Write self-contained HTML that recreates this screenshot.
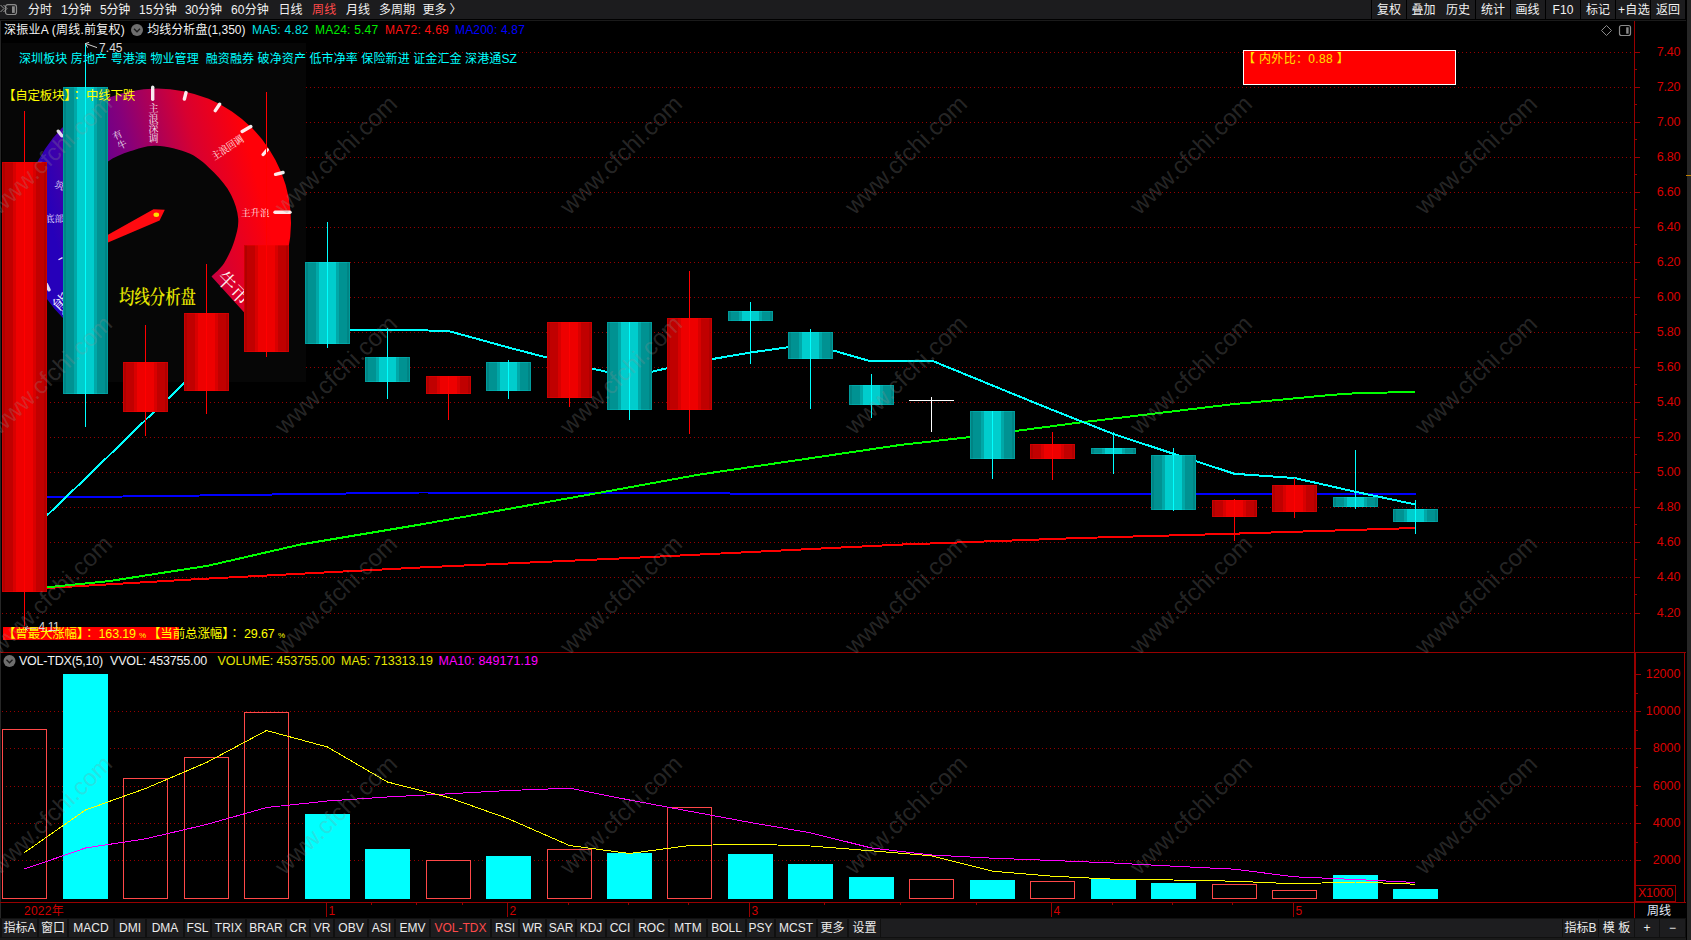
<!DOCTYPE html><html lang="zh"><head><meta charset="utf-8"><title>深振业A 周线</title><style>
html,body{margin:0;padding:0;background:#000;}
body{width:1691px;height:940px;overflow:hidden;position:relative;font-family:"Liberation Sans","Noto Sans CJK SC",sans-serif;}
.t{position:absolute;white-space:nowrap;line-height:16px;height:16px;}
.tb{position:absolute;background:#1c1c1e;}
.tab{position:absolute;top:919px;height:18px;background:#1d1d1f;color:#ececec;font-size:12px;line-height:18px;text-align:center;white-space:nowrap;}

</style></head><body>
<div class="tb" style="left:0;top:0;width:1371px;height:19px"></div>
<div class="tb" style="left:1372px;top:0;width:34px;height:19px"></div>
<div class="tb" style="left:1406.5px;top:0;width:34px;height:19px"></div>
<div class="tb" style="left:1441px;top:0;width:34px;height:19px"></div>
<div class="tb" style="left:1476px;top:0;width:34px;height:19px"></div>
<div class="tb" style="left:1510.5px;top:0;width:34px;height:19px"></div>
<div class="tb" style="left:1546px;top:0;width:34px;height:19px"></div>
<div class="tb" style="left:1581px;top:0;width:34px;height:19px"></div>
<div class="tb" style="left:1616px;top:0;width:34px;height:19px"></div>
<div class="tb" style="left:1651px;top:0;width:34px;height:19px"></div>
<div style="position:absolute;left:1687px;top:0;width:4px;height:940px;background:#262626"></div>
<div style="position:absolute;left:0;top:20px;width:1px;height:900px;background:#262626"></div>
<div style="position:absolute;left:0;top:20px;width:1686px;height:1px;background:#1a1a1a"></div>
<div style="position:absolute;left:0;top:918px;width:1686px;height:20px;background:#101010"></div>
<div style="position:absolute;left:881px;top:919px;width:681px;height:18px;background:#1d1d1f"></div>
<div style="position:absolute;left:0;top:938px;width:1686px;height:2px;background:#1a1a1a"></div>
<svg width="1691" height="940" viewBox="0 0 1691 940" style="position:absolute;left:0;top:0" shape-rendering="crispEdges">
<defs><linearGradient id="gg" gradientUnits="userSpaceOnUse" x1="56.4" y1="245.4" x2="260.6" y2="194.4"><stop offset="0" stop-color="#2600ba"/><stop offset="0.45" stop-color="#86007a"/><stop offset="0.75" stop-color="#d80030"/><stop offset="1" stop-color="#ff0008"/></linearGradient></defs>
<g stroke="#960000" stroke-width="1" stroke-dasharray="1 3"><line x1="2" y1="52.5" x2="1632" y2="52.5"/>
<line x1="2" y1="87.5" x2="1632" y2="87.5"/>
<line x1="2" y1="122.5" x2="1632" y2="122.5"/>
<line x1="2" y1="157.5" x2="1632" y2="157.5"/>
<line x1="2" y1="192.5" x2="1632" y2="192.5"/>
<line x1="2" y1="227.5" x2="1632" y2="227.5"/>
<line x1="2" y1="262.5" x2="1632" y2="262.5"/>
<line x1="2" y1="297.5" x2="1632" y2="297.5"/>
<line x1="2" y1="332.5" x2="1632" y2="332.5"/>
<line x1="2" y1="367.5" x2="1632" y2="367.5"/>
<line x1="2" y1="402.5" x2="1632" y2="402.5"/>
<line x1="2" y1="437.5" x2="1632" y2="437.5"/>
<line x1="2" y1="472.5" x2="1632" y2="472.5"/>
<line x1="2" y1="507.5" x2="1632" y2="507.5"/>
<line x1="2" y1="542.5" x2="1632" y2="542.5"/>
<line x1="2" y1="577.5" x2="1632" y2="577.5"/>
<line x1="2" y1="613.5" x2="1632" y2="613.5"/>
<line x1="2" y1="711.5" x2="1632" y2="711.5"/>
<line x1="2" y1="748.5" x2="1632" y2="748.5"/>
<line x1="2" y1="786.5" x2="1632" y2="786.5"/>
<line x1="2" y1="823.5" x2="1632" y2="823.5"/>
<line x1="2" y1="860.5" x2="1632" y2="860.5"/></g>
<rect x="1634" y="21" width="1" height="631" fill="#980000"/>
<rect x="0" y="652" width="1686" height="1" fill="#980000"/>
<rect x="1634" y="652" width="2" height="250" fill="#980000"/>
<rect x="1684" y="652" width="1" height="250" fill="#980000"/>
<rect x="0" y="902" width="1686" height="1" fill="#980000"/>
<rect x="1634" y="902" width="1" height="16" fill="#980000"/>
<rect x="1635.5" y="885.5" width="40" height="16" fill="none" stroke="#980000"/>
<rect x="1635" y="52" width="5" height="1" fill="#980000"/>
<rect x="1635" y="69" width="2" height="1" fill="#980000"/>
<rect x="1635" y="87" width="5" height="1" fill="#980000"/>
<rect x="1635" y="104" width="2" height="1" fill="#980000"/>
<rect x="1635" y="122" width="5" height="1" fill="#980000"/>
<rect x="1635" y="139" width="2" height="1" fill="#980000"/>
<rect x="1635" y="157" width="5" height="1" fill="#980000"/>
<rect x="1635" y="174" width="2" height="1" fill="#980000"/>
<rect x="1635" y="192" width="5" height="1" fill="#980000"/>
<rect x="1635" y="209" width="2" height="1" fill="#980000"/>
<rect x="1635" y="227" width="5" height="1" fill="#980000"/>
<rect x="1635" y="244" width="2" height="1" fill="#980000"/>
<rect x="1635" y="262" width="5" height="1" fill="#980000"/>
<rect x="1635" y="279" width="2" height="1" fill="#980000"/>
<rect x="1635" y="297" width="5" height="1" fill="#980000"/>
<rect x="1635" y="314" width="2" height="1" fill="#980000"/>
<rect x="1635" y="332" width="5" height="1" fill="#980000"/>
<rect x="1635" y="349" width="2" height="1" fill="#980000"/>
<rect x="1635" y="367" width="5" height="1" fill="#980000"/>
<rect x="1635" y="384" width="2" height="1" fill="#980000"/>
<rect x="1635" y="402" width="5" height="1" fill="#980000"/>
<rect x="1635" y="419" width="2" height="1" fill="#980000"/>
<rect x="1635" y="437" width="5" height="1" fill="#980000"/>
<rect x="1635" y="454" width="2" height="1" fill="#980000"/>
<rect x="1635" y="472" width="5" height="1" fill="#980000"/>
<rect x="1635" y="489" width="2" height="1" fill="#980000"/>
<rect x="1635" y="507" width="5" height="1" fill="#980000"/>
<rect x="1635" y="524" width="2" height="1" fill="#980000"/>
<rect x="1635" y="542" width="5" height="1" fill="#980000"/>
<rect x="1635" y="559" width="2" height="1" fill="#980000"/>
<rect x="1635" y="577" width="5" height="1" fill="#980000"/>
<rect x="1635" y="594" width="2" height="1" fill="#980000"/>
<rect x="1635" y="613" width="5" height="1" fill="#980000"/>
<rect x="1636" y="674" width="5" height="1" fill="#980000"/>
<rect x="1636" y="693" width="2" height="1" fill="#980000"/>
<rect x="1636" y="711" width="5" height="1" fill="#980000"/>
<rect x="1636" y="730" width="2" height="1" fill="#980000"/>
<rect x="1636" y="748" width="5" height="1" fill="#980000"/>
<rect x="1636" y="767" width="2" height="1" fill="#980000"/>
<rect x="1636" y="786" width="5" height="1" fill="#980000"/>
<rect x="1636" y="805" width="2" height="1" fill="#980000"/>
<rect x="1636" y="823" width="5" height="1" fill="#980000"/>
<rect x="1636" y="842" width="2" height="1" fill="#980000"/>
<rect x="1636" y="860" width="5" height="1" fill="#980000"/>
<rect x="371" y="903" width="1" height="2" fill="#980000"/>
<rect x="416" y="903" width="1" height="2" fill="#980000"/>
<rect x="462" y="903" width="1" height="2" fill="#980000"/>
<rect x="568" y="903" width="1" height="2" fill="#980000"/>
<rect x="628" y="903" width="1" height="2" fill="#980000"/>
<rect x="688" y="903" width="1" height="2" fill="#980000"/>
<rect x="824" y="903" width="1" height="2" fill="#980000"/>
<rect x="900" y="903" width="1" height="2" fill="#980000"/>
<rect x="976" y="903" width="1" height="2" fill="#980000"/>
<rect x="1112" y="903" width="1" height="2" fill="#980000"/>
<rect x="1172" y="903" width="1" height="2" fill="#980000"/>
<rect x="1232" y="903" width="1" height="2" fill="#980000"/>
<rect x="326" y="903" width="1" height="14" fill="#980000"/>
<rect x="507" y="903" width="1" height="14" fill="#980000"/>
<rect x="749" y="903" width="1" height="14" fill="#980000"/>
<rect x="1051" y="903" width="1" height="14" fill="#980000"/>
<rect x="1293" y="903" width="1" height="14" fill="#980000"/>
<polyline points="24.5,498.0 47.0,497.5 200.0,495.5 420.0,492.5 700.0,493.0 760.0,494.0 1415.5,494.0" fill="none" stroke="#0000ff" stroke-width="2" stroke-linejoin="round"/>
<polyline points="24.5,589.0 47.0,588.0 200.0,579.0 420.0,567.5 630.0,558.0 900.0,544.6 1080.0,538.0 1230.0,533.8 1415.5,528.0" fill="none" stroke="#ff0000" stroke-width="2" stroke-linejoin="round"/>
<polyline points="24.5,589.0 47.0,587.3 110.0,581.0 207.7,565.8 300.0,544.6 420.0,524.6 598.6,492.9 700.0,474.5 900.0,445.0 970.0,437.0 1080.0,422.5 1230.0,404.5 1330.0,395.0 1360.0,393.0 1415.5,392.0" fill="none" stroke="#00ff00" stroke-width="2" stroke-linejoin="round"/>
<polyline points="24.5,537.0 85.5,478.4 145.5,420.0 206.5,362.0 266.5,340.0 327.5,331.0 387.5,329.5 448.5,331.0 508.5,347.5 569.5,363.5 629.5,377.0 689.5,363.0 750.5,352.5 810.5,344.0 871.5,361.5 931.5,360.5 992.5,385.5 1052.5,410.0 1113.5,434.0 1173.5,453.8 1234.5,473.8 1294.5,478.0 1355.5,491.8 1415.5,504.5" fill="none" stroke="#00ffff" stroke-width="2" stroke-linejoin="round"/>
<rect x="2" y="43" width="304" height="339" fill="#060606"/>
<path d="M63.9,318.9 A134,134 0 1 1 250.1,318.9 L211.5,276.5 C213.6,274.2 220.4,268.9 224.2,262.9 C228.0,256.9 232.1,248.1 234.4,240.7 C236.7,233.3 238.8,226.3 238.2,218.6 C237.6,210.9 235.0,202.4 231.0,194.7 C227.0,187.0 220.8,179.4 214.0,172.6 C207.2,165.8 199.8,158.3 190.2,153.8 C180.5,149.3 166.1,146.1 156.1,145.7 C146.1,145.3 138.0,148.7 130.0,151.3 C122.0,153.9 114.3,157.1 108.0,161.5 C101.7,165.9 96.5,171.6 92.0,178.0 C87.5,184.4 83.3,192.7 81.0,200.0 C78.7,207.3 77.8,214.5 78.0,222.0 C78.2,229.5 79.7,238.0 82.0,245.0 C84.3,252.0 88.6,258.8 92.0,264.0 C95.4,269.2 100.8,274.4 102.5,276.5 Z" fill="url(#gg)" shape-rendering="auto"/>
<line x1="152.7" y1="87.2" x2="152.7" y2="99.3" stroke="#fff" stroke-width="3.4" stroke-linecap="round" shape-rendering="auto" opacity="0.92"/>
<line x1="186.0" y1="92.6" x2="184.4" y2="99.0" stroke="#fff" stroke-width="3.4" stroke-linecap="round" shape-rendering="auto" opacity="0.92"/>
<line x1="219.6" y1="104.2" x2="215.3" y2="110.6" stroke="#fff" stroke-width="3.4" stroke-linecap="round" shape-rendering="auto" opacity="0.92"/>
<line x1="250.8" y1="126.5" x2="242.2" y2="131.4" stroke="#fff" stroke-width="3.4" stroke-linecap="round" shape-rendering="auto" opacity="0.92"/>
<line x1="267.2" y1="149.9" x2="263.2" y2="154.5" stroke="#fff" stroke-width="3.4" stroke-linecap="round" shape-rendering="auto" opacity="0.92"/>
<line x1="283.0" y1="172.5" x2="275.6" y2="174.3" stroke="#fff" stroke-width="3.4" stroke-linecap="round" shape-rendering="auto" opacity="0.92"/>
<line x1="290.0" y1="212.2" x2="275.0" y2="212.2" stroke="#fff" stroke-width="3.4" stroke-linecap="round" shape-rendering="auto" opacity="0.92"/>
<line x1="58.3" y1="131.2" x2="61.8" y2="135.8" stroke="#fff" stroke-width="3.4" stroke-linecap="round" shape-rendering="auto" opacity="0.85"/>
<line x1="46.6" y1="284.6" x2="49.0" y2="289.8" stroke="#fff" stroke-width="3.4" stroke-linecap="round" shape-rendering="auto" opacity="0.85"/>
<polygon points="153.5,209.2 164.8,209.7 159.6,220.6 108,242.4 64,262 108,234.8" fill="#ff0a10" shape-rendering="auto"/>
<line x1="58.5" y1="259.8" x2="62.5" y2="257.6" stroke="#f0e8ff" stroke-width="1.2" shape-rendering="auto"/>
<ellipse cx="156.3" cy="214.8" rx="2.8" ry="2.2" fill="#ffe000" shape-rendering="auto"/>
<g shape-rendering="auto"><text x="153.5" y="112.3" font-size="10" fill="#f4e8f0" text-anchor="middle" font-family='"Liberation Serif","Noto Serif CJK SC",serif'>主</text>
<text x="153.5" y="122.3" font-size="10" fill="#f4e8f0" text-anchor="middle" font-family='"Liberation Serif","Noto Serif CJK SC",serif'>浪</text>
<text x="153.5" y="132.1" font-size="10" fill="#f4e8f0" text-anchor="middle" font-family='"Liberation Serif","Noto Serif CJK SC",serif'>深</text>
<text x="153.5" y="141.9" font-size="10" fill="#f4e8f0" text-anchor="middle" font-family='"Liberation Serif","Noto Serif CJK SC",serif'>调</text>
<g transform="translate(117.5,135) rotate(-27)"><text x="0" y="3.4" font-size="9.5" fill="#f0e0f0" text-anchor="middle" font-family='"Liberation Serif","Noto Serif CJK SC",serif'>有</text><text x="0" y="14" font-size="9.5" fill="#f0e0f0" text-anchor="middle" font-family='"Liberation Serif","Noto Serif CJK SC",serif'>牛</text></g>
<g transform="translate(227.5,147.5) rotate(-33)"><text x="0" y="3.8" font-size="10.5" fill="#ffe8e8" text-anchor="middle" textLength="36" lengthAdjust="spacingAndGlyphs" font-family='"Liberation Serif","Noto Serif CJK SC",serif'>主浪回调</text></g>
<text x="241" y="216" font-size="9.5" fill="#ffe8e8" font-family='"Liberation Serif","Noto Serif CJK SC",serif'>主升浪</text>
<g transform="translate(233.7,288) rotate(45)"><text x="0" y="7" font-size="19.5" fill="#fff0f0" text-anchor="middle" font-family='"Liberation Serif","Noto Serif CJK SC",serif'>牛市</text></g>
<text x="45" y="222" font-size="9.5" fill="#e8e0ff" font-family='"Liberation Serif","Noto Serif CJK SC",serif'>底部反转</text>
<g transform="translate(64,187) rotate(20)"><text x="0" y="3.5" font-size="9.5" fill="#e8e0ff" text-anchor="middle" font-family='"Liberation Serif","Noto Serif CJK SC",serif'>筑底</text></g>
<g transform="translate(70,296) rotate(-45)"><text x="0" y="7" font-size="19.5" fill="#e8e0ff" text-anchor="middle" font-family='"Liberation Serif","Noto Serif CJK SC",serif'>熊市</text></g>
<text x="157.5" y="304" font-size="19.5" font-weight="600" fill="#e6e600" text-anchor="middle" textLength="77" lengthAdjust="spacingAndGlyphs" font-family='"Liberation Serif","Noto Serif CJK SC",serif'>均线分析盘</text></g>
<rect x="24" y="111" width="1" height="515" fill="#ff0000"/>
<rect x="2" y="162" width="3" height="430" fill="#b00000"/>
<rect x="5" y="162" width="8" height="430" fill="#c00000"/>
<rect x="13" y="162" width="3" height="430" fill="#d80000"/>
<rect x="16" y="162" width="8" height="430" fill="#ee0000"/>
<rect x="24" y="162" width="1" height="430" fill="#ff0000"/>
<rect x="25" y="162" width="8" height="430" fill="#ee0000"/>
<rect x="33" y="162" width="3" height="430" fill="#d80000"/>
<rect x="36" y="162" width="8" height="430" fill="#c00000"/>
<rect x="44" y="162" width="3" height="430" fill="#b00000"/>
<rect x="2.5" y="162.5" width="44" height="429" fill="none" stroke="#ff0000" stroke-opacity="0.35"/>
<rect x="85" y="43" width="1" height="384" fill="#00ffff"/>
<rect x="63" y="87" width="3" height="307" fill="#008484"/>
<rect x="66" y="87" width="8" height="307" fill="#009292"/>
<rect x="74" y="87" width="3" height="307" fill="#00a8a8"/>
<rect x="77" y="87" width="8" height="307" fill="#00cdcd"/>
<rect x="85" y="87" width="1" height="307" fill="#00ffff"/>
<rect x="86" y="87" width="8" height="307" fill="#00cdcd"/>
<rect x="94" y="87" width="3" height="307" fill="#00a8a8"/>
<rect x="97" y="87" width="8" height="307" fill="#009292"/>
<rect x="105" y="87" width="3" height="307" fill="#008484"/>
<rect x="63.5" y="87.5" width="44" height="306" fill="none" stroke="#00ffff" stroke-opacity="0.2"/>
<rect x="145" y="325" width="1" height="111" fill="#ff0000"/>
<rect x="123" y="362" width="3" height="50" fill="#b00000"/>
<rect x="126" y="362" width="8" height="50" fill="#c00000"/>
<rect x="134" y="362" width="3" height="50" fill="#d80000"/>
<rect x="137" y="362" width="8" height="50" fill="#ee0000"/>
<rect x="145" y="362" width="1" height="50" fill="#ff0000"/>
<rect x="146" y="362" width="8" height="50" fill="#ee0000"/>
<rect x="154" y="362" width="3" height="50" fill="#d80000"/>
<rect x="157" y="362" width="8" height="50" fill="#c00000"/>
<rect x="165" y="362" width="3" height="50" fill="#b00000"/>
<rect x="123.5" y="362.5" width="44" height="49" fill="none" stroke="#ff0000" stroke-opacity="0.35"/>
<rect x="206" y="264" width="1" height="150" fill="#ff0000"/>
<rect x="184" y="313" width="3" height="78" fill="#b00000"/>
<rect x="187" y="313" width="8" height="78" fill="#c00000"/>
<rect x="195" y="313" width="3" height="78" fill="#d80000"/>
<rect x="198" y="313" width="8" height="78" fill="#ee0000"/>
<rect x="206" y="313" width="1" height="78" fill="#ff0000"/>
<rect x="207" y="313" width="8" height="78" fill="#ee0000"/>
<rect x="215" y="313" width="3" height="78" fill="#d80000"/>
<rect x="218" y="313" width="8" height="78" fill="#c00000"/>
<rect x="226" y="313" width="3" height="78" fill="#b00000"/>
<rect x="184.5" y="313.5" width="44" height="77" fill="none" stroke="#ff0000" stroke-opacity="0.35"/>
<rect x="266" y="92" width="1" height="265" fill="#ff0000"/>
<rect x="244" y="245" width="3" height="107" fill="#b00000"/>
<rect x="247" y="245" width="8" height="107" fill="#c00000"/>
<rect x="255" y="245" width="3" height="107" fill="#d80000"/>
<rect x="258" y="245" width="8" height="107" fill="#ee0000"/>
<rect x="266" y="245" width="1" height="107" fill="#ff0000"/>
<rect x="267" y="245" width="8" height="107" fill="#ee0000"/>
<rect x="275" y="245" width="3" height="107" fill="#d80000"/>
<rect x="278" y="245" width="8" height="107" fill="#c00000"/>
<rect x="286" y="245" width="3" height="107" fill="#b00000"/>
<rect x="244.5" y="245.5" width="44" height="106" fill="none" stroke="#ff0000" stroke-opacity="0.35"/>
<rect x="327" y="222" width="1" height="126" fill="#00ffff"/>
<rect x="305" y="262" width="3" height="82" fill="#008484"/>
<rect x="308" y="262" width="8" height="82" fill="#009292"/>
<rect x="316" y="262" width="3" height="82" fill="#00a8a8"/>
<rect x="319" y="262" width="8" height="82" fill="#00cdcd"/>
<rect x="327" y="262" width="1" height="82" fill="#00ffff"/>
<rect x="328" y="262" width="8" height="82" fill="#00cdcd"/>
<rect x="336" y="262" width="3" height="82" fill="#00a8a8"/>
<rect x="339" y="262" width="8" height="82" fill="#009292"/>
<rect x="347" y="262" width="3" height="82" fill="#008484"/>
<rect x="305.5" y="262.5" width="44" height="81" fill="none" stroke="#00ffff" stroke-opacity="0.2"/>
<rect x="387" y="328" width="1" height="71" fill="#00ffff"/>
<rect x="365" y="357" width="3" height="25" fill="#008484"/>
<rect x="368" y="357" width="8" height="25" fill="#009292"/>
<rect x="376" y="357" width="3" height="25" fill="#00a8a8"/>
<rect x="379" y="357" width="8" height="25" fill="#00cdcd"/>
<rect x="387" y="357" width="1" height="25" fill="#00ffff"/>
<rect x="388" y="357" width="8" height="25" fill="#00cdcd"/>
<rect x="396" y="357" width="3" height="25" fill="#00a8a8"/>
<rect x="399" y="357" width="8" height="25" fill="#009292"/>
<rect x="407" y="357" width="3" height="25" fill="#008484"/>
<rect x="365.5" y="357.5" width="44" height="24" fill="none" stroke="#00ffff" stroke-opacity="0.2"/>
<rect x="448" y="376" width="1" height="44" fill="#ff0000"/>
<rect x="426" y="376" width="3" height="18" fill="#b00000"/>
<rect x="429" y="376" width="8" height="18" fill="#c00000"/>
<rect x="437" y="376" width="3" height="18" fill="#d80000"/>
<rect x="440" y="376" width="8" height="18" fill="#ee0000"/>
<rect x="448" y="376" width="1" height="18" fill="#ff0000"/>
<rect x="449" y="376" width="8" height="18" fill="#ee0000"/>
<rect x="457" y="376" width="3" height="18" fill="#d80000"/>
<rect x="460" y="376" width="8" height="18" fill="#c00000"/>
<rect x="468" y="376" width="3" height="18" fill="#b00000"/>
<rect x="426.5" y="376.5" width="44" height="17" fill="none" stroke="#ff0000" stroke-opacity="0.35"/>
<rect x="508" y="360" width="1" height="39" fill="#00ffff"/>
<rect x="486" y="362" width="3" height="29" fill="#008484"/>
<rect x="489" y="362" width="8" height="29" fill="#009292"/>
<rect x="497" y="362" width="3" height="29" fill="#00a8a8"/>
<rect x="500" y="362" width="8" height="29" fill="#00cdcd"/>
<rect x="508" y="362" width="1" height="29" fill="#00ffff"/>
<rect x="509" y="362" width="8" height="29" fill="#00cdcd"/>
<rect x="517" y="362" width="3" height="29" fill="#00a8a8"/>
<rect x="520" y="362" width="8" height="29" fill="#009292"/>
<rect x="528" y="362" width="3" height="29" fill="#008484"/>
<rect x="486.5" y="362.5" width="44" height="28" fill="none" stroke="#00ffff" stroke-opacity="0.2"/>
<rect x="569" y="322" width="1" height="85" fill="#ff0000"/>
<rect x="547" y="322" width="3" height="76" fill="#b00000"/>
<rect x="550" y="322" width="8" height="76" fill="#c00000"/>
<rect x="558" y="322" width="3" height="76" fill="#d80000"/>
<rect x="561" y="322" width="8" height="76" fill="#ee0000"/>
<rect x="569" y="322" width="1" height="76" fill="#ff0000"/>
<rect x="570" y="322" width="8" height="76" fill="#ee0000"/>
<rect x="578" y="322" width="3" height="76" fill="#d80000"/>
<rect x="581" y="322" width="8" height="76" fill="#c00000"/>
<rect x="589" y="322" width="3" height="76" fill="#b00000"/>
<rect x="547.5" y="322.5" width="44" height="75" fill="none" stroke="#ff0000" stroke-opacity="0.35"/>
<rect x="629" y="322" width="1" height="98" fill="#00ffff"/>
<rect x="607" y="322" width="3" height="88" fill="#008484"/>
<rect x="610" y="322" width="8" height="88" fill="#009292"/>
<rect x="618" y="322" width="3" height="88" fill="#00a8a8"/>
<rect x="621" y="322" width="8" height="88" fill="#00cdcd"/>
<rect x="629" y="322" width="1" height="88" fill="#00ffff"/>
<rect x="630" y="322" width="8" height="88" fill="#00cdcd"/>
<rect x="638" y="322" width="3" height="88" fill="#00a8a8"/>
<rect x="641" y="322" width="8" height="88" fill="#009292"/>
<rect x="649" y="322" width="3" height="88" fill="#008484"/>
<rect x="607.5" y="322.5" width="44" height="87" fill="none" stroke="#00ffff" stroke-opacity="0.2"/>
<rect x="689" y="271" width="1" height="163" fill="#ff0000"/>
<rect x="667" y="318" width="3" height="92" fill="#b00000"/>
<rect x="670" y="318" width="8" height="92" fill="#c00000"/>
<rect x="678" y="318" width="3" height="92" fill="#d80000"/>
<rect x="681" y="318" width="8" height="92" fill="#ee0000"/>
<rect x="689" y="318" width="1" height="92" fill="#ff0000"/>
<rect x="690" y="318" width="8" height="92" fill="#ee0000"/>
<rect x="698" y="318" width="3" height="92" fill="#d80000"/>
<rect x="701" y="318" width="8" height="92" fill="#c00000"/>
<rect x="709" y="318" width="3" height="92" fill="#b00000"/>
<rect x="667.5" y="318.5" width="44" height="91" fill="none" stroke="#ff0000" stroke-opacity="0.35"/>
<rect x="750" y="302" width="1" height="62" fill="#00ffff"/>
<rect x="728" y="311" width="3" height="10" fill="#008484"/>
<rect x="731" y="311" width="8" height="10" fill="#009292"/>
<rect x="739" y="311" width="3" height="10" fill="#00a8a8"/>
<rect x="742" y="311" width="8" height="10" fill="#00cdcd"/>
<rect x="750" y="311" width="1" height="10" fill="#00ffff"/>
<rect x="751" y="311" width="8" height="10" fill="#00cdcd"/>
<rect x="759" y="311" width="3" height="10" fill="#00a8a8"/>
<rect x="762" y="311" width="8" height="10" fill="#009292"/>
<rect x="770" y="311" width="3" height="10" fill="#008484"/>
<rect x="728.5" y="311.5" width="44" height="9" fill="none" stroke="#00ffff" stroke-opacity="0.2"/>
<rect x="810" y="329" width="1" height="80" fill="#00ffff"/>
<rect x="788" y="332" width="3" height="27" fill="#008484"/>
<rect x="791" y="332" width="8" height="27" fill="#009292"/>
<rect x="799" y="332" width="3" height="27" fill="#00a8a8"/>
<rect x="802" y="332" width="8" height="27" fill="#00cdcd"/>
<rect x="810" y="332" width="1" height="27" fill="#00ffff"/>
<rect x="811" y="332" width="8" height="27" fill="#00cdcd"/>
<rect x="819" y="332" width="3" height="27" fill="#00a8a8"/>
<rect x="822" y="332" width="8" height="27" fill="#009292"/>
<rect x="830" y="332" width="3" height="27" fill="#008484"/>
<rect x="788.5" y="332.5" width="44" height="26" fill="none" stroke="#00ffff" stroke-opacity="0.2"/>
<rect x="871" y="374" width="1" height="44" fill="#00ffff"/>
<rect x="849" y="385" width="3" height="20" fill="#008484"/>
<rect x="852" y="385" width="8" height="20" fill="#009292"/>
<rect x="860" y="385" width="3" height="20" fill="#00a8a8"/>
<rect x="863" y="385" width="8" height="20" fill="#00cdcd"/>
<rect x="871" y="385" width="1" height="20" fill="#00ffff"/>
<rect x="872" y="385" width="8" height="20" fill="#00cdcd"/>
<rect x="880" y="385" width="3" height="20" fill="#00a8a8"/>
<rect x="883" y="385" width="8" height="20" fill="#009292"/>
<rect x="891" y="385" width="3" height="20" fill="#008484"/>
<rect x="849.5" y="385.5" width="44" height="19" fill="none" stroke="#00ffff" stroke-opacity="0.2"/>
<rect x="909" y="400" width="45" height="1" fill="#fff"/>
<rect x="931" y="397" width="1" height="35" fill="#fff"/>
<rect x="992" y="411" width="1" height="68" fill="#00ffff"/>
<rect x="970" y="411" width="3" height="48" fill="#008484"/>
<rect x="973" y="411" width="8" height="48" fill="#009292"/>
<rect x="981" y="411" width="3" height="48" fill="#00a8a8"/>
<rect x="984" y="411" width="8" height="48" fill="#00cdcd"/>
<rect x="992" y="411" width="1" height="48" fill="#00ffff"/>
<rect x="993" y="411" width="8" height="48" fill="#00cdcd"/>
<rect x="1001" y="411" width="3" height="48" fill="#00a8a8"/>
<rect x="1004" y="411" width="8" height="48" fill="#009292"/>
<rect x="1012" y="411" width="3" height="48" fill="#008484"/>
<rect x="970.5" y="411.5" width="44" height="47" fill="none" stroke="#00ffff" stroke-opacity="0.2"/>
<rect x="1052" y="432" width="1" height="48" fill="#ff0000"/>
<rect x="1030" y="444" width="3" height="15" fill="#b00000"/>
<rect x="1033" y="444" width="8" height="15" fill="#c00000"/>
<rect x="1041" y="444" width="3" height="15" fill="#d80000"/>
<rect x="1044" y="444" width="8" height="15" fill="#ee0000"/>
<rect x="1052" y="444" width="1" height="15" fill="#ff0000"/>
<rect x="1053" y="444" width="8" height="15" fill="#ee0000"/>
<rect x="1061" y="444" width="3" height="15" fill="#d80000"/>
<rect x="1064" y="444" width="8" height="15" fill="#c00000"/>
<rect x="1072" y="444" width="3" height="15" fill="#b00000"/>
<rect x="1030.5" y="444.5" width="44" height="14" fill="none" stroke="#ff0000" stroke-opacity="0.35"/>
<rect x="1113" y="432" width="1" height="42" fill="#00ffff"/>
<rect x="1091" y="448" width="3" height="6" fill="#008484"/>
<rect x="1094" y="448" width="8" height="6" fill="#009292"/>
<rect x="1102" y="448" width="3" height="6" fill="#00a8a8"/>
<rect x="1105" y="448" width="8" height="6" fill="#00cdcd"/>
<rect x="1113" y="448" width="1" height="6" fill="#00ffff"/>
<rect x="1114" y="448" width="8" height="6" fill="#00cdcd"/>
<rect x="1122" y="448" width="3" height="6" fill="#00a8a8"/>
<rect x="1125" y="448" width="8" height="6" fill="#009292"/>
<rect x="1133" y="448" width="3" height="6" fill="#008484"/>
<rect x="1091.5" y="448.5" width="44" height="5" fill="none" stroke="#00ffff" stroke-opacity="0.2"/>
<rect x="1173" y="448" width="1" height="63" fill="#00ffff"/>
<rect x="1151" y="455" width="3" height="55" fill="#008484"/>
<rect x="1154" y="455" width="8" height="55" fill="#009292"/>
<rect x="1162" y="455" width="3" height="55" fill="#00a8a8"/>
<rect x="1165" y="455" width="8" height="55" fill="#00cdcd"/>
<rect x="1173" y="455" width="1" height="55" fill="#00ffff"/>
<rect x="1174" y="455" width="8" height="55" fill="#00cdcd"/>
<rect x="1182" y="455" width="3" height="55" fill="#00a8a8"/>
<rect x="1185" y="455" width="8" height="55" fill="#009292"/>
<rect x="1193" y="455" width="3" height="55" fill="#008484"/>
<rect x="1151.5" y="455.5" width="44" height="54" fill="none" stroke="#00ffff" stroke-opacity="0.2"/>
<rect x="1234" y="499" width="1" height="42" fill="#ff0000"/>
<rect x="1212" y="500" width="3" height="17" fill="#b00000"/>
<rect x="1215" y="500" width="8" height="17" fill="#c00000"/>
<rect x="1223" y="500" width="3" height="17" fill="#d80000"/>
<rect x="1226" y="500" width="8" height="17" fill="#ee0000"/>
<rect x="1234" y="500" width="1" height="17" fill="#ff0000"/>
<rect x="1235" y="500" width="8" height="17" fill="#ee0000"/>
<rect x="1243" y="500" width="3" height="17" fill="#d80000"/>
<rect x="1246" y="500" width="8" height="17" fill="#c00000"/>
<rect x="1254" y="500" width="3" height="17" fill="#b00000"/>
<rect x="1212.5" y="500.5" width="44" height="16" fill="none" stroke="#ff0000" stroke-opacity="0.35"/>
<rect x="1294" y="478" width="1" height="40" fill="#ff0000"/>
<rect x="1272" y="485" width="3" height="27" fill="#b00000"/>
<rect x="1275" y="485" width="8" height="27" fill="#c00000"/>
<rect x="1283" y="485" width="3" height="27" fill="#d80000"/>
<rect x="1286" y="485" width="8" height="27" fill="#ee0000"/>
<rect x="1294" y="485" width="1" height="27" fill="#ff0000"/>
<rect x="1295" y="485" width="8" height="27" fill="#ee0000"/>
<rect x="1303" y="485" width="3" height="27" fill="#d80000"/>
<rect x="1306" y="485" width="8" height="27" fill="#c00000"/>
<rect x="1314" y="485" width="3" height="27" fill="#b00000"/>
<rect x="1272.5" y="485.5" width="44" height="26" fill="none" stroke="#ff0000" stroke-opacity="0.35"/>
<rect x="1355" y="450" width="1" height="59" fill="#00ffff"/>
<rect x="1333" y="497" width="3" height="10" fill="#008484"/>
<rect x="1336" y="497" width="8" height="10" fill="#009292"/>
<rect x="1344" y="497" width="3" height="10" fill="#00a8a8"/>
<rect x="1347" y="497" width="8" height="10" fill="#00cdcd"/>
<rect x="1355" y="497" width="1" height="10" fill="#00ffff"/>
<rect x="1356" y="497" width="8" height="10" fill="#00cdcd"/>
<rect x="1364" y="497" width="3" height="10" fill="#00a8a8"/>
<rect x="1367" y="497" width="8" height="10" fill="#009292"/>
<rect x="1375" y="497" width="3" height="10" fill="#008484"/>
<rect x="1333.5" y="497.5" width="44" height="9" fill="none" stroke="#00ffff" stroke-opacity="0.2"/>
<rect x="1415" y="500" width="1" height="34" fill="#00ffff"/>
<rect x="1393" y="509" width="3" height="13" fill="#008484"/>
<rect x="1396" y="509" width="8" height="13" fill="#009292"/>
<rect x="1404" y="509" width="3" height="13" fill="#00a8a8"/>
<rect x="1407" y="509" width="8" height="13" fill="#00cdcd"/>
<rect x="1415" y="509" width="1" height="13" fill="#00ffff"/>
<rect x="1416" y="509" width="8" height="13" fill="#00cdcd"/>
<rect x="1424" y="509" width="3" height="13" fill="#00a8a8"/>
<rect x="1427" y="509" width="8" height="13" fill="#009292"/>
<rect x="1435" y="509" width="3" height="13" fill="#008484"/>
<rect x="1393.5" y="509.5" width="44" height="12" fill="none" stroke="#00ffff" stroke-opacity="0.2"/>
<rect x="2.5" y="729.5" width="44" height="169" fill="none" stroke="#ff4848" stroke-width="1"/>
<rect x="63" y="674" width="45" height="225" fill="#00ffff"/>
<rect x="123.5" y="778.5" width="44" height="120" fill="none" stroke="#ff4848" stroke-width="1"/>
<rect x="184.5" y="757.5" width="44" height="141" fill="none" stroke="#ff4848" stroke-width="1"/>
<rect x="244.5" y="712.5" width="44" height="186" fill="none" stroke="#ff4848" stroke-width="1"/>
<rect x="305" y="814" width="45" height="85" fill="#00ffff"/>
<rect x="365" y="849" width="45" height="50" fill="#00ffff"/>
<rect x="426.5" y="860.5" width="44" height="38" fill="none" stroke="#ff4848" stroke-width="1"/>
<rect x="486" y="856" width="45" height="43" fill="#00ffff"/>
<rect x="547.5" y="849.5" width="44" height="49" fill="none" stroke="#ff4848" stroke-width="1"/>
<rect x="607" y="853" width="45" height="46" fill="#00ffff"/>
<rect x="667.5" y="807.5" width="44" height="91" fill="none" stroke="#ff4848" stroke-width="1"/>
<rect x="728" y="854" width="45" height="45" fill="#00ffff"/>
<rect x="788" y="864" width="45" height="35" fill="#00ffff"/>
<rect x="849" y="877" width="45" height="22" fill="#00ffff"/>
<rect x="909.5" y="879.5" width="44" height="19" fill="none" stroke="#ff4848" stroke-width="1"/>
<rect x="970" y="880" width="45" height="19" fill="#00ffff"/>
<rect x="1030.5" y="881.5" width="44" height="17" fill="none" stroke="#ff4848" stroke-width="1"/>
<rect x="1091" y="879" width="45" height="20" fill="#00ffff"/>
<rect x="1151" y="883" width="45" height="16" fill="#00ffff"/>
<rect x="1212.5" y="884.5" width="44" height="14" fill="none" stroke="#ff4848" stroke-width="1"/>
<rect x="1272.5" y="890.5" width="44" height="8" fill="none" stroke="#ff4848" stroke-width="1"/>
<rect x="1333" y="875" width="45" height="24" fill="#00ffff"/>
<rect x="1393" y="889" width="45" height="10" fill="#00ffff"/>
<polyline points="24.5,869.0 85.5,848.0 145.5,838.8 206.5,824.5 266.5,807.5 327.5,801.0 387.5,797.0 448.5,793.8 508.5,790.5 569.5,788.2 629.5,800.0 689.5,811.2 750.5,822.5 810.5,832.8 871.5,848.0 931.5,855.0 992.5,858.2 1052.5,860.5 1113.5,863.0 1173.5,866.2 1234.5,869.2 1294.5,876.8 1355.5,879.5 1415.5,882.5" fill="none" stroke="#ff00ff" stroke-width="1" stroke-linejoin="round"/>
<polyline points="24.5,852.5 85.5,810.0 145.5,788.5 206.5,762.5 266.5,730.5 327.5,747.0 387.5,782.0 448.5,797.5 508.5,818.8 569.5,845.5 629.5,853.5 689.5,845.5 750.5,844.2 810.5,846.0 871.5,850.8 931.5,855.8 992.5,871.2 1052.5,876.2 1113.5,879.2 1173.5,880.0 1234.5,881.2 1294.5,883.8 1355.5,882.0 1415.5,884.2" fill="none" stroke="#ffff00" stroke-width="1" stroke-linejoin="round"/>
<rect x="1243.5" y="50.5" width="212" height="34" fill="#ff0000" stroke="#ffffff"/>
<rect x="3" y="627" width="176" height="13" fill="#ff0000"/>
<g shape-rendering="auto" stroke="#d0d0d0" fill="none" stroke-width="1"><path d="M85.5,43.5 L97,47.6 M85.5,43.5 L89.2,42.4 M85.5,43.5 L87.6,47.6"/></g>
<g shape-rendering="auto" stroke="#d0d0d0" fill="none" stroke-width="1"><path d="M25,628.3 L36.5,628.3 M25,628.3 L27.8,626.3 M25,628.3 L27.8,630.6"/></g>
<g shape-rendering="auto" fill="none" stroke="#8a8a8a" stroke-width="1"><path d="M1606.5,25.5 L1611.5,30.5 L1606.5,35.5 L1601.5,30.5 Z"/><rect x="1619.5" y="25.5" width="11" height="10" rx="2" stroke-width="1.2"/><rect x="1626.2" y="27.3" width="2.4" height="6.4" fill="#8a8a8a" stroke="none"/></g>
<g shape-rendering="auto" fill="none" stroke="#8a8a8a" stroke-width="1.2"><rect x="5.5" y="4.7" width="11" height="9.8" rx="2.2"/><rect x="12" y="6.3" width="2.8" height="6.6" fill="#8a8a8a" stroke="none"/><path d="M0.5,5 L4,8.5 L0.5,12 M3.5,5 L7,8.5 L3.5,12" stroke="#9a9a9a" stroke-width="1"/></g>
<g shape-rendering="auto"><circle cx="137" cy="30" r="6" fill="#6e6e6e"/><path d="M134,28.8 L137,31.8 L140,28.8" fill="none" stroke="#1a1a1a" stroke-width="1.3"/></g>
<g shape-rendering="auto"><circle cx="9.5" cy="661" r="6" fill="#6e6e6e"/><path d="M6.5,659.8 L9.5,662.8 L12.5,659.8" fill="none" stroke="#1a1a1a" stroke-width="1.3"/></g>
<rect x="1686" y="175" width="5" height="1" fill="#c08000"/>
<g shape-rendering="auto" font-family='"Liberation Sans",sans-serif' font-size="24" fill="#909090" fill-opacity="0.27"><text transform="translate(51,155) rotate(-44)" x="0" y="8" text-anchor="middle">www.cfchi.com</text>
<text transform="translate(336,155) rotate(-44)" x="0" y="8" text-anchor="middle">www.cfchi.com</text>
<text transform="translate(621,155) rotate(-44)" x="0" y="8" text-anchor="middle">www.cfchi.com</text>
<text transform="translate(906,155) rotate(-44)" x="0" y="8" text-anchor="middle">www.cfchi.com</text>
<text transform="translate(1191,155) rotate(-44)" x="0" y="8" text-anchor="middle">www.cfchi.com</text>
<text transform="translate(1476,155) rotate(-44)" x="0" y="8" text-anchor="middle">www.cfchi.com</text>
<text transform="translate(51,375) rotate(-44)" x="0" y="8" text-anchor="middle">www.cfchi.com</text>
<text transform="translate(336,375) rotate(-44)" x="0" y="8" text-anchor="middle">www.cfchi.com</text>
<text transform="translate(621,375) rotate(-44)" x="0" y="8" text-anchor="middle">www.cfchi.com</text>
<text transform="translate(906,375) rotate(-44)" x="0" y="8" text-anchor="middle">www.cfchi.com</text>
<text transform="translate(1191,375) rotate(-44)" x="0" y="8" text-anchor="middle">www.cfchi.com</text>
<text transform="translate(1476,375) rotate(-44)" x="0" y="8" text-anchor="middle">www.cfchi.com</text>
<text transform="translate(51,595) rotate(-44)" x="0" y="8" text-anchor="middle">www.cfchi.com</text>
<text transform="translate(336,595) rotate(-44)" x="0" y="8" text-anchor="middle">www.cfchi.com</text>
<text transform="translate(621,595) rotate(-44)" x="0" y="8" text-anchor="middle">www.cfchi.com</text>
<text transform="translate(906,595) rotate(-44)" x="0" y="8" text-anchor="middle">www.cfchi.com</text>
<text transform="translate(1191,595) rotate(-44)" x="0" y="8" text-anchor="middle">www.cfchi.com</text>
<text transform="translate(1476,595) rotate(-44)" x="0" y="8" text-anchor="middle">www.cfchi.com</text>
<text transform="translate(51,815) rotate(-44)" x="0" y="8" text-anchor="middle">www.cfchi.com</text>
<text transform="translate(336,815) rotate(-44)" x="0" y="8" text-anchor="middle">www.cfchi.com</text>
<text transform="translate(621,815) rotate(-44)" x="0" y="8" text-anchor="middle">www.cfchi.com</text>
<text transform="translate(906,815) rotate(-44)" x="0" y="8" text-anchor="middle">www.cfchi.com</text>
<text transform="translate(1191,815) rotate(-44)" x="0" y="8" text-anchor="middle">www.cfchi.com</text>
<text transform="translate(1476,815) rotate(-44)" x="0" y="8" text-anchor="middle">www.cfchi.com</text></g>
</svg>
<div class="tab" id="tab_指标A" style="left:2px;width:35px;color:#ececec;"><span style="letter-spacing:0px;margin-right:0px">指标A</span></div>
<div class="tab" id="tab_窗口" style="left:39px;width:28px;color:#ececec;"><span style="letter-spacing:0px;margin-right:0px">窗口</span></div>
<div class="tab" id="tab_MACD" style="left:69px;width:44px;color:#ececec;"><span style="letter-spacing:0px;margin-right:0px">MACD</span></div>
<div class="tab" id="tab_DMI" style="left:115px;width:30px;color:#ececec;"><span style="letter-spacing:0px;margin-right:0px">DMI</span></div>
<div class="tab" id="tab_DMA" style="left:147px;width:36px;color:#ececec;"><span style="letter-spacing:0px;margin-right:0px">DMA</span></div>
<div class="tab" id="tab_FSL" style="left:185px;width:25px;color:#ececec;"><span style="letter-spacing:0px;margin-right:0px">FSL</span></div>
<div class="tab" id="tab_TRIX" style="left:212px;width:33px;color:#ececec;"><span style="letter-spacing:0px;margin-right:0px">TRIX</span></div>
<div class="tab" id="tab_BRAR" style="left:247px;width:38px;color:#ececec;"><span style="letter-spacing:0px;margin-right:0px">BRAR</span></div>
<div class="tab" id="tab_CR" style="left:287px;width:22px;color:#ececec;"><span style="letter-spacing:0px;margin-right:0px">CR</span></div>
<div class="tab" id="tab_VR" style="left:311px;width:22px;color:#ececec;"><span style="letter-spacing:0px;margin-right:0px">VR</span></div>
<div class="tab" id="tab_OBV" style="left:335px;width:32px;color:#ececec;"><span style="letter-spacing:0px;margin-right:0px">OBV</span></div>
<div class="tab" id="tab_ASI" style="left:369px;width:25px;color:#ececec;"><span style="letter-spacing:0px;margin-right:0px">ASI</span></div>
<div class="tab" id="tab_EMV" style="left:396px;width:33px;color:#ececec;"><span style="letter-spacing:0px;margin-right:0px">EMV</span></div>
<div class="tab" id="tab_VOL-TDX" style="left:431px;width:59px;color:#ff4a4a;"><span style="letter-spacing:0px;margin-right:0px">VOL-TDX</span></div>
<div class="tab" id="tab_RSI" style="left:492px;width:26px;color:#ececec;"><span style="letter-spacing:0px;margin-right:0px">RSI</span></div>
<div class="tab" id="tab_WR" style="left:520px;width:25px;color:#ececec;"><span style="letter-spacing:0px;margin-right:0px">WR</span></div>
<div class="tab" id="tab_SAR" style="left:547px;width:28px;color:#ececec;"><span style="letter-spacing:0px;margin-right:0px">SAR</span></div>
<div class="tab" id="tab_KDJ" style="left:577px;width:28px;color:#ececec;"><span style="letter-spacing:0px;margin-right:0px">KDJ</span></div>
<div class="tab" id="tab_CCI" style="left:607px;width:26px;color:#ececec;"><span style="letter-spacing:0px;margin-right:0px">CCI</span></div>
<div class="tab" id="tab_ROC" style="left:635px;width:33px;color:#ececec;"><span style="letter-spacing:0px;margin-right:0px">ROC</span></div>
<div class="tab" id="tab_MTM" style="left:670px;width:36px;color:#ececec;"><span style="letter-spacing:0px;margin-right:0px">MTM</span></div>
<div class="tab" id="tab_BOLL" style="left:708px;width:37px;color:#ececec;"><span style="letter-spacing:0px;margin-right:0px">BOLL</span></div>
<div class="tab" id="tab_PSY" style="left:747px;width:27px;color:#ececec;"><span style="letter-spacing:0px;margin-right:0px">PSY</span></div>
<div class="tab" id="tab_MCST" style="left:776px;width:40px;color:#ececec;"><span style="letter-spacing:0px;margin-right:0px">MCST</span></div>
<div class="tab" id="tab_更多" style="left:818px;width:29px;color:#ececec;"><span style="letter-spacing:0px;margin-right:0px">更多</span></div>
<div class="tab" id="tab_设置" style="left:849px;width:31px;color:#ececec;"><span style="letter-spacing:0px;margin-right:0px">设置</span></div>
<div class="tab" id="tab_指标B" style="left:1563px;width:35px;color:#ececec;"><span style="letter-spacing:0px;margin-right:0px">指标B</span></div>
<div class="tab" id="tab_模 板" style="left:1599px;width:35px;color:#ececec;"><span style="letter-spacing:0px;margin-right:0px">模 板</span></div>
<div class="tab" id="tab_+" style="left:1635px;width:24px;color:#ececec;"><span style="letter-spacing:0px;margin-right:0px">+</span></div>
<div class="tab" id="tab_−" style="left:1660px;width:25px;color:#ececec;"><span style="letter-spacing:0px;margin-right:0px">−</span></div>
<span class="t" id="a0" style='left:28px;top:1.5px;font-size:12px;color:#f2f2f2;font-family:"Liberation Sans","Noto Sans CJK SC",sans-serif;letter-spacing:-0.008px;'>分时</span>
<span class="t" id="a1" style='left:61px;top:1.5px;font-size:12px;color:#f2f2f2;font-family:"Liberation Sans","Noto Sans CJK SC",sans-serif;letter-spacing:-0.229px;'>1分钟</span>
<span class="t" id="a2" style='left:100px;top:1.5px;font-size:12px;color:#f2f2f2;font-family:"Liberation Sans","Noto Sans CJK SC",sans-serif;letter-spacing:-0.229px;'>5分钟</span>
<span class="t" id="a3" style='left:139px;top:1.5px;font-size:12px;color:#f2f2f2;font-family:"Liberation Sans","Noto Sans CJK SC",sans-serif;letter-spacing:0.16px;'>15分钟</span>
<span class="t" id="a4" style='left:185px;top:1.5px;font-size:12px;color:#f2f2f2;font-family:"Liberation Sans","Noto Sans CJK SC",sans-serif;letter-spacing:-0.09px;'>30分钟</span>
<span class="t" id="a5" style='left:231px;top:1.5px;font-size:12px;color:#f2f2f2;font-family:"Liberation Sans","Noto Sans CJK SC",sans-serif;letter-spacing:0.16px;'>60分钟</span>
<span class="t" id="a6" style='left:278.5px;top:1.5px;font-size:12px;color:#f2f2f2;font-family:"Liberation Sans","Noto Sans CJK SC",sans-serif;letter-spacing:-0.008px;'>日线</span>
<span class="t" id="a7" style='left:312px;top:1.5px;font-size:12px;color:#ff4a4a;font-family:"Liberation Sans","Noto Sans CJK SC",sans-serif;letter-spacing:0.242px;'>周线</span>
<span class="t" id="a8" style='left:346px;top:1.5px;font-size:12px;color:#f2f2f2;font-family:"Liberation Sans","Noto Sans CJK SC",sans-serif;letter-spacing:-0.008px;'>月线</span>
<span class="t" id="a9" style='left:379px;top:1.5px;font-size:12px;color:#f2f2f2;font-family:"Liberation Sans","Noto Sans CJK SC",sans-serif;letter-spacing:-0.005px;'>多周期</span>
<span class="t" id="a10" style='left:422.5px;top:1.5px;font-size:12px;color:#f2f2f2;font-family:"Liberation Sans","Noto Sans CJK SC",sans-serif;letter-spacing:-0.008px;'>更多</span>
<span class="t" id="a11" style='left:449.5px;top:1.5px;font-size:12px;color:#f2f2f2;font-family:"Liberation Sans","Noto Sans CJK SC",sans-serif;letter-spacing:-0.016px;'>〉</span>
<span class="t" id="b0" style='left:1377.0px;top:1.5px;font-size:12px;color:#f2f2f2;font-family:"Liberation Sans","Noto Sans CJK SC",sans-serif;letter-spacing:-0.008px;'>复权</span>
<span class="t" id="b1" style='left:1411.5px;top:1.5px;font-size:12px;color:#f2f2f2;font-family:"Liberation Sans","Noto Sans CJK SC",sans-serif;letter-spacing:-0.008px;'>叠加</span>
<span class="t" id="b2" style='left:1446.0px;top:1.5px;font-size:12px;color:#f2f2f2;font-family:"Liberation Sans","Noto Sans CJK SC",sans-serif;letter-spacing:-0.008px;'>历史</span>
<span class="t" id="b3" style='left:1481.0px;top:1.5px;font-size:12px;color:#f2f2f2;font-family:"Liberation Sans","Noto Sans CJK SC",sans-serif;letter-spacing:-0.008px;'>统计</span>
<span class="t" id="b4" style='left:1515.5px;top:1.5px;font-size:12px;color:#f2f2f2;font-family:"Liberation Sans","Noto Sans CJK SC",sans-serif;letter-spacing:-0.008px;'>画线</span>
<span class="t" id="b5" style='left:1552.5px;top:1.5px;font-size:12px;color:#f2f2f2;font-family:"Liberation Sans","Noto Sans CJK SC",sans-serif;letter-spacing:0.104px;'>F10</span>
<span class="t" id="b6" style='left:1586.0px;top:1.5px;font-size:12px;color:#f2f2f2;font-family:"Liberation Sans","Noto Sans CJK SC",sans-serif;letter-spacing:-0.008px;'>标记</span>
<span class="t" id="b7" style='left:1618.0px;top:1.5px;font-size:12px;color:#f2f2f2;font-family:"Liberation Sans","Noto Sans CJK SC",sans-serif;letter-spacing:0.328px;'>+自选</span>
<span class="t" id="b8" style='left:1656.0px;top:1.5px;font-size:12px;color:#f2f2f2;font-family:"Liberation Sans","Noto Sans CJK SC",sans-serif;letter-spacing:-0.008px;'>返回</span>
<span class="t" id="c0" style='left:4px;top:21.5px;font-size:12px;color:#f2f2f2;font-family:"Liberation Sans","Noto Sans CJK SC",sans-serif;letter-spacing:0.23px;'>深振业A (周线.前复权)</span>
<span class="t" id="c1" style='left:147.3px;top:21.5px;font-size:12px;color:#f2f2f2;font-family:"Liberation Sans","Noto Sans CJK SC",sans-serif;letter-spacing:0.022px;'>均线分析盘(1,350)</span>
<span class="t" id="c2" style='left:252px;top:21.5px;font-size:12px;color:#00e6e6;font-family:"Liberation Sans","Noto Sans CJK SC",sans-serif;letter-spacing:0.222px;'>MA5: 4.82</span>
<span class="t" id="c3" style='left:315px;top:21.5px;font-size:12px;color:#00ec00;font-family:"Liberation Sans","Noto Sans CJK SC",sans-serif;letter-spacing:0.193px;'>MA24: 5.47</span>
<span class="t" id="c4" style='left:385px;top:21.5px;font-size:12px;color:#ff1010;font-family:"Liberation Sans","Noto Sans CJK SC",sans-serif;letter-spacing:0.263px;'>MA72: 4.69</span>
<span class="t" id="c5" style='left:455px;top:21.5px;font-size:12px;color:#0000ff;font-family:"Liberation Sans","Noto Sans CJK SC",sans-serif;letter-spacing:0.178px;'>MA200: 4.87</span>
<span class="t" id="c6" style='left:19px;top:50.5px;font-size:12px;color:#00ffff;font-family:"Liberation Sans","Noto Sans CJK SC",sans-serif;letter-spacing:0.108px;white-space:pre;'>深圳板块 房地产 粤港澳 物业管理  融资融券 破净资产 低市净率 保险新进 证金汇金 深港通SZ</span>
<span class="t" id="c7" style='left:99px;top:40.2px;font-size:12px;color:#dcdcdc;font-family:"Liberation Sans","Noto Sans CJK SC",sans-serif;letter-spacing:0.06px;'>7.45</span>
<span class="t" id="c8" style='left:3px;top:87px;font-size:12.5px;color:#ffff00;font-family:"Liberation Sans","Noto Sans CJK SC",sans-serif;letter-spacing:-0.23px;white-space:pre;'>【自定板块】<span lang="ja" style="font-family:&quot;Noto Sans CJK JP&quot;">：</span> 中线下跌</span>
<span class="t" id="c9" style='left:38.6px;top:619.4px;font-size:12px;color:#dcdcdc;font-family:"Liberation Sans","Noto Sans CJK SC",sans-serif;letter-spacing:-0.442px;'>4.11</span>
<span class="t" id="c10" style='left:3px;top:624.5px;font-size:12.5px;color:#ffff00;font-family:"Liberation Sans","Noto Sans CJK SC",sans-serif;letter-spacing:-0.182px;'>【曾最大涨幅】<span lang="ja" style="font-family:&quot;Noto Sans CJK JP&quot;">：</span> 163.19 <span style="font-size:8px">%</span></span>
<span class="t" id="c11" style='left:148px;top:624.5px;font-size:12.5px;color:#ffff00;font-family:"Liberation Sans","Noto Sans CJK SC",sans-serif;letter-spacing:-0.134px;'>【当前总涨幅】<span lang="ja" style="font-family:&quot;Noto Sans CJK JP&quot;">：</span> 29.67 <span style="font-size:8px">%</span></span>
<span class="t" id="c12" style='left:1243px;top:50.5px;font-size:12px;color:#ffe000;font-family:"Liberation Sans","Noto Sans CJK SC",sans-serif;letter-spacing:0.331px;'>【 内外比：0.88 】</span>
<span class="t" id="d0" style='left:19px;top:653px;font-size:12.5px;color:#f2f2f2;font-family:"Liberation Sans","Noto Sans CJK SC",sans-serif;letter-spacing:-0.219px;'>VOL-TDX(5,10)</span>
<span class="t" id="d1" style='left:110px;top:653px;font-size:12.5px;color:#f2f2f2;font-family:"Liberation Sans","Noto Sans CJK SC",sans-serif;letter-spacing:-0.159px;'>VVOL: 453755.00</span>
<span class="t" id="d2" style='left:217.5px;top:653px;font-size:12.5px;color:#e6e600;font-family:"Liberation Sans","Noto Sans CJK SC",sans-serif;letter-spacing:-0.078px;'>VOLUME: 453755.00</span>
<span class="t" id="d3" style='left:341px;top:653px;font-size:12.5px;color:#e6e600;font-family:"Liberation Sans","Noto Sans CJK SC",sans-serif;letter-spacing:0.018px;'>MA5: 713313.19</span>
<span class="t" id="d4" style='left:438.5px;top:653px;font-size:12.5px;color:#ff00ff;font-family:"Liberation Sans","Noto Sans CJK SC",sans-serif;letter-spacing:0.053px;'>MA10: 849171.19</span>
<span class="t" id="e0" style='left:1656.7px;top:43.5px;font-size:12.5px;color:#d80000;font-family:"Liberation Sans","Noto Sans CJK SC",sans-serif;letter-spacing:-0.186px;'>7.40</span>
<span class="t" id="e1" style='left:1656.7px;top:78.5px;font-size:12.5px;color:#d80000;font-family:"Liberation Sans","Noto Sans CJK SC",sans-serif;letter-spacing:-0.186px;'>7.20</span>
<span class="t" id="e2" style='left:1656.7px;top:113.5px;font-size:12.5px;color:#d80000;font-family:"Liberation Sans","Noto Sans CJK SC",sans-serif;letter-spacing:-0.186px;'>7.00</span>
<span class="t" id="e3" style='left:1656.7px;top:148.5px;font-size:12.5px;color:#d80000;font-family:"Liberation Sans","Noto Sans CJK SC",sans-serif;letter-spacing:-0.186px;'>6.80</span>
<span class="t" id="e4" style='left:1656.7px;top:183.5px;font-size:12.5px;color:#d80000;font-family:"Liberation Sans","Noto Sans CJK SC",sans-serif;letter-spacing:-0.186px;'>6.60</span>
<span class="t" id="e5" style='left:1656.7px;top:218.5px;font-size:12.5px;color:#d80000;font-family:"Liberation Sans","Noto Sans CJK SC",sans-serif;letter-spacing:-0.186px;'>6.40</span>
<span class="t" id="e6" style='left:1656.7px;top:253.5px;font-size:12.5px;color:#d80000;font-family:"Liberation Sans","Noto Sans CJK SC",sans-serif;letter-spacing:-0.186px;'>6.20</span>
<span class="t" id="e7" style='left:1656.7px;top:288.5px;font-size:12.5px;color:#d80000;font-family:"Liberation Sans","Noto Sans CJK SC",sans-serif;letter-spacing:-0.186px;'>6.00</span>
<span class="t" id="e8" style='left:1656.7px;top:323.5px;font-size:12.5px;color:#d80000;font-family:"Liberation Sans","Noto Sans CJK SC",sans-serif;letter-spacing:-0.186px;'>5.80</span>
<span class="t" id="e9" style='left:1656.7px;top:358.5px;font-size:12.5px;color:#d80000;font-family:"Liberation Sans","Noto Sans CJK SC",sans-serif;letter-spacing:-0.186px;'>5.60</span>
<span class="t" id="e10" style='left:1656.7px;top:393.5px;font-size:12.5px;color:#d80000;font-family:"Liberation Sans","Noto Sans CJK SC",sans-serif;letter-spacing:-0.186px;'>5.40</span>
<span class="t" id="e11" style='left:1656.7px;top:428.5px;font-size:12.5px;color:#d80000;font-family:"Liberation Sans","Noto Sans CJK SC",sans-serif;letter-spacing:-0.186px;'>5.20</span>
<span class="t" id="e12" style='left:1656.7px;top:463.5px;font-size:12.5px;color:#d80000;font-family:"Liberation Sans","Noto Sans CJK SC",sans-serif;letter-spacing:-0.186px;'>5.00</span>
<span class="t" id="e13" style='left:1656.7px;top:498.5px;font-size:12.5px;color:#d80000;font-family:"Liberation Sans","Noto Sans CJK SC",sans-serif;letter-spacing:-0.186px;'>4.80</span>
<span class="t" id="e14" style='left:1656.7px;top:533.5px;font-size:12.5px;color:#d80000;font-family:"Liberation Sans","Noto Sans CJK SC",sans-serif;letter-spacing:-0.186px;'>4.60</span>
<span class="t" id="e15" style='left:1656.7px;top:568.5px;font-size:12.5px;color:#d80000;font-family:"Liberation Sans","Noto Sans CJK SC",sans-serif;letter-spacing:-0.186px;'>4.40</span>
<span class="t" id="e16" style='left:1656.7px;top:604.5px;font-size:12.5px;color:#d80000;font-family:"Liberation Sans","Noto Sans CJK SC",sans-serif;letter-spacing:-0.186px;'>4.20</span>
<span class="t" id="f0" style='left:1645.8px;top:665.5px;font-size:12.5px;color:#d80000;font-family:"Liberation Sans","Noto Sans CJK SC",sans-serif;letter-spacing:-0.053px;'>12000</span>
<span class="t" id="f1" style='left:1645.8px;top:702.5px;font-size:12.5px;color:#d80000;font-family:"Liberation Sans","Noto Sans CJK SC",sans-serif;letter-spacing:-0.053px;'>10000</span>
<span class="t" id="f2" style='left:1652.8px;top:739.5px;font-size:12.5px;color:#d80000;font-family:"Liberation Sans","Noto Sans CJK SC",sans-serif;letter-spacing:-0.078px;'>8000</span>
<span class="t" id="f3" style='left:1652.8px;top:777.5px;font-size:12.5px;color:#d80000;font-family:"Liberation Sans","Noto Sans CJK SC",sans-serif;letter-spacing:-0.078px;'>6000</span>
<span class="t" id="f4" style='left:1652.8px;top:814.5px;font-size:12.5px;color:#d80000;font-family:"Liberation Sans","Noto Sans CJK SC",sans-serif;letter-spacing:-0.078px;'>4000</span>
<span class="t" id="f5" style='left:1652.8px;top:851.5px;font-size:12.5px;color:#d80000;font-family:"Liberation Sans","Noto Sans CJK SC",sans-serif;letter-spacing:-0.078px;'>2000</span>
<span class="t" id="f9" style='left:1638px;top:885px;font-size:12.5px;color:#d80000;font-family:"Liberation Sans","Noto Sans CJK SC",sans-serif;letter-spacing:-0.231px;'>X1000</span>
<span class="t" id="g0" style='left:1647px;top:902.5px;font-size:12px;color:#e0e8f8;font-family:"Liberation Sans","Noto Sans CJK SC",sans-serif;letter-spacing:-0.008px;'>周线</span>
<span class="t" id="g1" style='left:24px;top:903px;font-size:12px;color:#d00000;font-family:"Liberation Sans","Noto Sans CJK SC",sans-serif;letter-spacing:0.259px;'>2022年</span>
<span class="t" id="h0" style='left:328.5px;top:903px;font-size:12px;color:#d00000;font-family:"Liberation Sans","Noto Sans CJK SC",sans-serif;letter-spacing:-0.188px;'>1</span>
<span class="t" id="h1" style='left:509.5px;top:903px;font-size:12px;color:#d00000;font-family:"Liberation Sans","Noto Sans CJK SC",sans-serif;letter-spacing:-0.188px;'>2</span>
<span class="t" id="h2" style='left:751.5px;top:903px;font-size:12px;color:#d00000;font-family:"Liberation Sans","Noto Sans CJK SC",sans-serif;letter-spacing:-0.188px;'>3</span>
<span class="t" id="h3" style='left:1053.5px;top:903px;font-size:12px;color:#d00000;font-family:"Liberation Sans","Noto Sans CJK SC",sans-serif;letter-spacing:-0.188px;'>4</span>
<span class="t" id="h4" style='left:1295.5px;top:903px;font-size:12px;color:#d00000;font-family:"Liberation Sans","Noto Sans CJK SC",sans-serif;letter-spacing:-0.188px;'>5</span>
</body></html>
